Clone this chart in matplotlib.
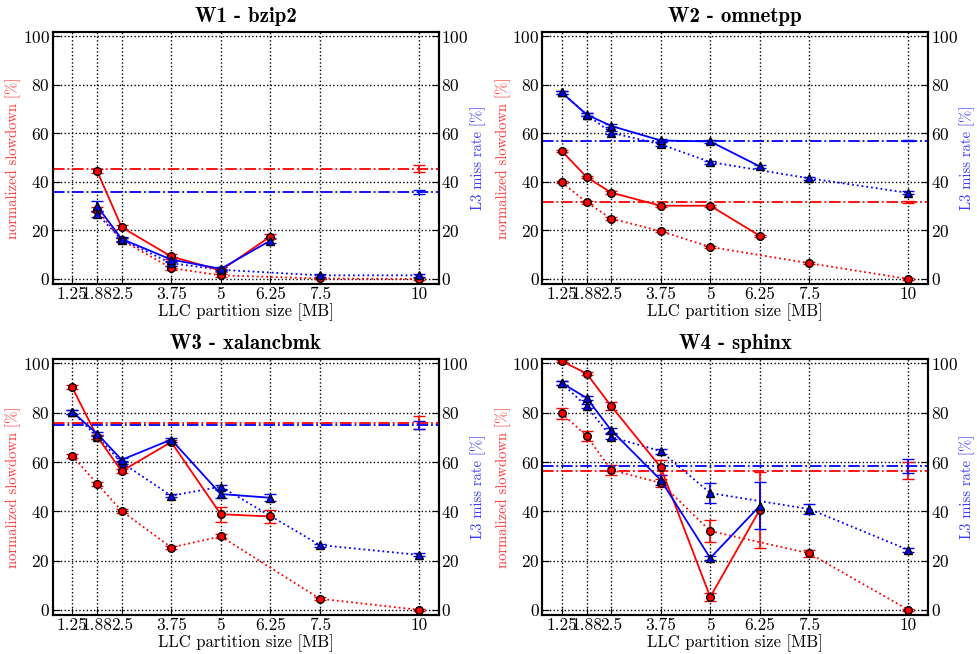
import matplotlib
matplotlib.use("Agg")
import matplotlib.pyplot as plt
import numpy as np

plt.rcParams['font.family'] = ['cmr10', 'DejaVu Serif']
plt.rcParams['axes.formatter.use_mathtext'] = True
plt.rcParams['axes.unicode_minus'] = False

xticks = [1.25, 1.88, 2.5, 3.75, 5, 6.25, 7.5, 10]
xtick_labels = ["1.25", "1.88", "2.5", "3.75", "5", "6.25", "7.5", "10"]
x_solid = [1.25, 1.88, 2.5, 3.75, 5, 6.25]
x_dot = [1.25, 1.88, 2.5, 3.75, 5, 7.5, 10]

titles = ["W1 - bzip2", "W2 - omnetpp", "W3 - xalancbmk", "W4 - sphinx"]

# W1 has no 1.25 MB point
w1_solid_red = [np.nan, 44.5, 21.3, 9.3, 3.5, 17.5]
w1_solid_red_err = [0, 0.8, 0.8, 1.0, 0.6, 1.2]
w1_solid_blue = [np.nan, 30.0, 16.5, 8.0, 4.2, 15.8]
w1_solid_blue_err = [0, 2.0, 1.0, 1.0, 0.6, 1.0]
w1_dot_red = [np.nan, 28.5, 16.0, 4.5, 1.5, 0.2, 0.0]
w1_dot_red_err = [0, 1.0, 0.8, 1.0, 0.5, 0.3, 0.3]
w1_dot_blue = [np.nan, 26.8, 16.2, 6.5, 3.8, 1.5, 1.5]
w1_dot_blue_err = [0, 1.2, 0.8, 1.0, 0.5, 0.5, 0.5]
w1_base = [45.5, 35.7]
w1_base_err = [1.5, 0.8]

w2_solid_red = [52.8, 42.0, 35.6, 30.2, 30.2, 17.8]
w2_solid_red_err = [0.5, 0.5, 0.5, 0.5, 0.5, 0.5]
w2_solid_blue = [76.9, 67.8, 63.1, 57.1, 56.7, 46.4]
w2_solid_blue_err = [0.6, 0.6, 0.6, 0.6, 0.6, 0.6]
w2_dot_red = [39.9, 31.6, 24.9, 19.7, 13.2, 6.5, 0.0]
w2_dot_red_err = [0.5, 0.5, 0.5, 0.5, 0.5, 0.5, 0.3]
w2_dot_blue = [76.9, 67.8, 60.3, 55.5, 48.2, 41.5, 35.5]
w2_dot_blue_err = [0.6, 0.6, 0.6, 0.8, 0.6, 0.6, 0.6]
w2_base = [31.8, 57.0]
w2_base_err = [0.3, 0.3]

w3_solid_red = [90.3, 70.3, 56.3, 68.1, 38.8, 37.9]
w3_solid_red_err = [0.8, 0.8, 0.8, 0.8, 3.0, 2.7]
w3_solid_blue = [80.4, 71.5, 60.9, 69.1, 47.0, 45.5]
w3_solid_blue_err = [0.8, 0.8, 0.8, 0.8, 1.5, 1.5]
w3_dot_red = [62.5, 51.2, 40.1, 25.3, 29.8, 4.5, 0.0]
w3_dot_red_err = [0.8, 0.8, 0.8, 0.8, 0.8, 0.6, 0.3]
w3_dot_blue = [80.4, 70.2, 59.8, 46.3, 50.0, 26.3, 22.3]
w3_dot_blue_err = [0.8, 0.8, 0.8, 0.6, 0.8, 0.6, 0.6]
w3_base = [76.0, 75.2]
w3_base_err = [2.7, 1.6]

w4_solid_red = [101.0, 95.9, 82.7, 57.9, 5.2, 40.6]
w4_solid_red_err = [0.6, 0.6, 1.5, 3.0, 1.5, 15.5]
w4_solid_blue = [92.1, 86.0, 72.9, 52.7, 21.0, 42.2]
w4_solid_blue_err = [0.8, 0.8, 1.0, 2.0, 0.8, 9.5]
w4_dot_red = [79.8, 70.6, 56.8, 51.5, 32.0, 22.9, 0.0]
w4_dot_red_err = [2.3, 2.0, 2.0, 1.5, 4.5, 1.5, 0.3]
w4_dot_blue = [92.0, 82.6, 70.2, 64.4, 47.4, 40.9, 24.3]
w4_dot_blue_err = [0.8, 0.8, 1.0, 1.0, 4.0, 2.0, 0.8]
w4_base = [56.5, 58.4]
w4_base_err = [3.5, 3.0]

panels = [
    (w1_solid_red, w1_solid_red_err, w1_solid_blue, w1_solid_blue_err,
     w1_dot_red, w1_dot_red_err, w1_dot_blue, w1_dot_blue_err, w1_base, w1_base_err),
    (w2_solid_red, w2_solid_red_err, w2_solid_blue, w2_solid_blue_err,
     w2_dot_red, w2_dot_red_err, w2_dot_blue, w2_dot_blue_err, w2_base, w2_base_err),
    (w3_solid_red, w3_solid_red_err, w3_solid_blue, w3_solid_blue_err,
     w3_dot_red, w3_dot_red_err, w3_dot_blue, w3_dot_blue_err, w3_base, w3_base_err),
    (w4_solid_red, w4_solid_red_err, w4_solid_blue, w4_solid_blue_err,
     w4_dot_red, w4_dot_red_err, w4_dot_blue, w4_dot_blue_err, w4_base, w4_base_err),
]

positions = [
    [0.054, 0.566, 0.395, 0.385],
    [0.555, 0.566, 0.395, 0.385],
    [0.054, 0.060, 0.395, 0.391],
    [0.555, 0.060, 0.395, 0.391],
]

fig = plt.figure(figsize=(9.77, 6.54), dpi=100)

for i in range(4):
    sr, sre, sb, sbe, dr, dre, db, dbe, base, base_err = panels[i]
    ax = fig.add_axes(positions[i])
    ax2 = ax.twinx()

    # dotted series
    ax.errorbar(x_dot, dr, yerr=dre, fmt="o:", color="red", ecolor="red",
                mec="black", mfc="red", ms=5.5, capsize=4, lw=1.3, elinewidth=1.2)
    ax.errorbar(x_dot, db, yerr=dbe, fmt="^:", color="blue", ecolor="blue",
                mec="black", mfc="blue", ms=6, capsize=4, lw=1.3, elinewidth=1.2)
    # solid series
    ax.errorbar(x_solid, sr, yerr=sre, fmt="o-", color="red", ecolor="red",
                mec="black", mfc="red", ms=5.5, capsize=4, lw=1.3, elinewidth=1.2)
    ax.errorbar(x_solid, sb, yerr=sbe, fmt="^-", color="blue", ecolor="blue",
                mec="black", mfc="blue", ms=6, capsize=4, lw=1.3, elinewidth=1.2)

    # baselines
    ax.axhline(base[0], color="red", ls="-.", lw=1.3)
    ax.axhline(base[1], color="blue", ls="-.", lw=1.3)
    ax.errorbar([10], [base[0]], yerr=[base_err[0]], fmt="none", ecolor="red",
                capsize=4, elinewidth=1.2)
    ax.errorbar([10], [base[1]], yerr=[base_err[1]], fmt="none", ecolor="blue",
                capsize=4, elinewidth=1.2)

    ax.set_xlim(0.76, 10.5)
    ax.set_ylim(-2, 101.8)
    ax2.set_ylim(-2, 101.8)
    ax.set_xticks(xticks)
    ax.set_xticklabels(xtick_labels)
    ax.set_yticks([0, 20, 40, 60, 80, 100])
    ax2.set_yticks([0, 20, 40, 60, 80, 100])
    ax.grid(True, color="black", ls=":", lw=1.0)
    ax.tick_params(labelsize=12.5, direction="in", length=5, pad=2)
    ax2.tick_params(labelsize=12.5, direction="in", length=5, pad=2)
    ax.set_xlabel("LLC partition size [MB]", fontsize=12, labelpad=1)
    ax.set_ylabel("normalized slowdown [%]", color="#ff3a3a", fontsize=10.5, labelpad=1)
    ax2.set_ylabel("L3 miss rate [%]", color="#3a3aff", fontsize=10.5, labelpad=1)
    ax.set_title(titles[i], fontsize=15, fontfamily="cmb10", pad=7)
    for a in (ax, ax2):
        for s in a.spines.values():
            s.set_linewidth(1.5)

fig.savefig("out.png", dpi=100)
